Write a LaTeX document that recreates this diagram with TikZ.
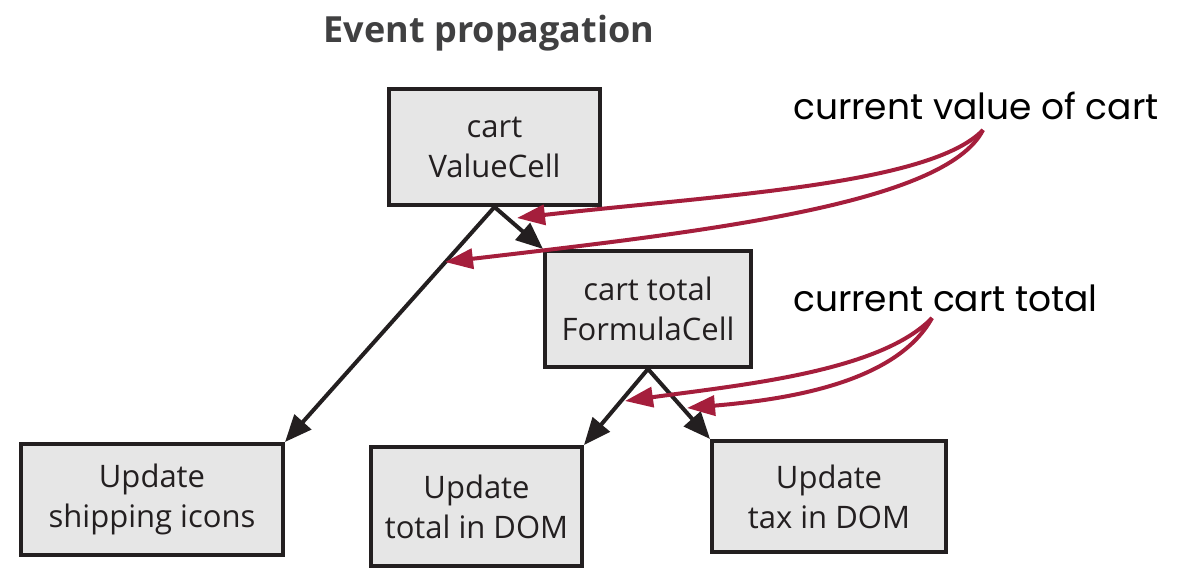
\documentclass[tikz,border=0pt]{standalone}
\usepackage{fontspec}
\setmainfont{Open Sans}
\newfontfamily\hand{Poppins}
\usetikzlibrary{arrows.meta}
\definecolor{boxfill}{HTML}{E6E6E6}
\definecolor{ink}{HTML}{231F20}
\definecolor{titleink}{HTML}{404041}
\definecolor{note}{HTML}{A51E3C}
\begin{document}
\begin{tikzpicture}[x=1pt,y=-1pt,
  cell/.style={draw=ink, fill=boxfill, line width=4pt, align=center, inner sep=0pt,
    font=\fontsize{31}{40}\selectfont, text=ink},
  flow/.style={draw=ink, line width=4pt, -{Triangle[length=27pt,width=22pt]}},
  notearrow/.style={draw=note, line width=4pt, -{Triangle[length=28pt,width=20pt]}},
  notetext/.style={font=\hand\fontsize{36}{40}\selectfont, text=black, inner sep=0pt}]
\useasboundingbox (0,0) rectangle (1177,583);
\node[font=\bfseries\fontsize{36}{40}\selectfont, text=titleink, anchor=base, inner sep=0pt] (title) at (489,43) {Event propagation};

\node[cell, minimum width=211pt, minimum height=116pt] (A) at (494.5,147) {cart\\ValueCell};
\node[cell, minimum width=206pt, minimum height=116pt] (B) at (648,309) {cart total\\FormulaCell};
\node[cell, minimum width=262pt, minimum height=111pt] (C) at (152,499.5) {Update\\shipping icons};
\node[cell, minimum width=211pt, minimum height=119pt] (D) at (476.5,506.5) {Update\\total in DOM};
\node[cell, minimum width=234pt, minimum height=111pt] (E) at (829,496.5) {Update\\tax in DOM};

\draw[flow] (A.south) -- (C.north east);
\draw[flow] (A.south) -- (B.north west);
\draw[flow] (B.south) -- (D.north east);
\draw[flow] (B.south) -- (E.north west);

\node[notetext, anchor=base west] (n1) at (793,120) {current value of cart};
\node[notetext, anchor=base west] (n2) at (793,311) {current cart total};

\coordinate (s1) at (983,130);
\coordinate (t1) at (517,218);
\coordinate (t2) at (445,262);
\coordinate (s2) at (932,318);
\coordinate (t3) at (625,401);
\coordinate (t4) at (687,408);

\draw[notearrow] (s1) .. controls (930,185) and (720,195) .. (t1);
\draw[notearrow] (s1) .. controls (945,205) and (700,232) .. (t2);
\draw[notearrow] (s2) .. controls (880,372) and (740,385) .. (t3);
\draw[notearrow] (s2) .. controls (895,385) and (780,400) .. (t4);
\end{tikzpicture}
\end{document}
